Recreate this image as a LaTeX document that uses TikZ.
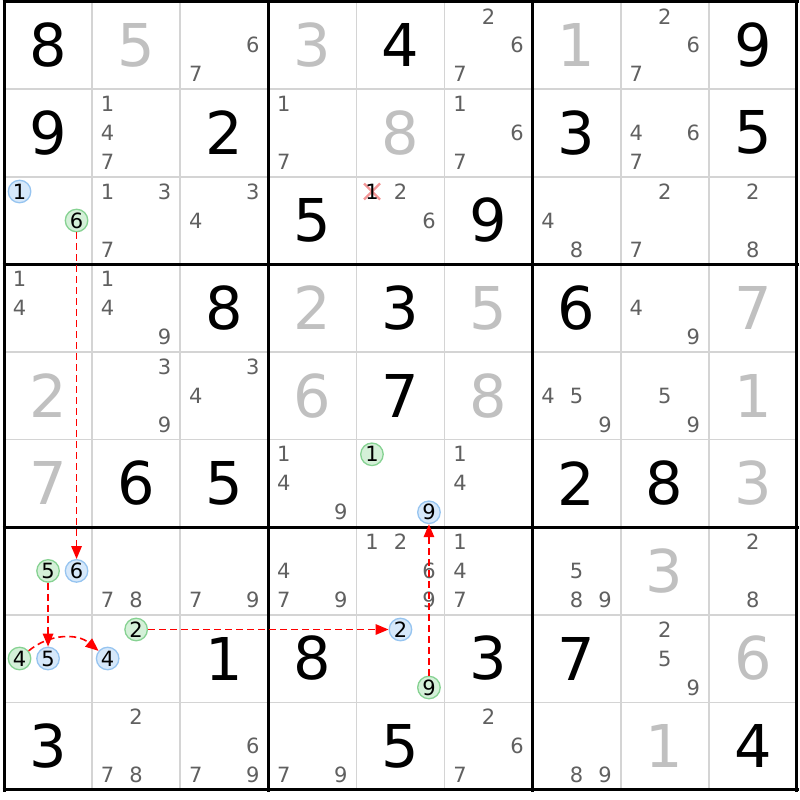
\documentclass[tikz,border=0pt]{standalone}
\usepackage{fontspec}
\setmainfont{DejaVu Sans}
\usepackage{tikz}
\usetikzlibrary{arrows.meta}

\definecolor{solved}{RGB}{192,192,192}
\definecolor{cand}{RGB}{96,96,96}
\definecolor{thingrid}{RGB}{212,212,212}
\definecolor{bluefill}{RGB}{214,232,250}
\definecolor{blueline}{RGB}{150,196,240}
\definecolor{greenfill}{RGB}{212,240,216}
\definecolor{greenline}{RGB}{134,210,146}
\definecolor{chainred}{RGB}{255,0,0}
\definecolor{crossred}{RGB}{244,150,150}

\begin{document}
\begin{tikzpicture}[x=1pt,y=-1pt,
  given/.style={font=\fontsize{59}{59}\selectfont,inner sep=0pt},
  filled/.style={given,text=solved},
  pencil/.style={font=\fontsize{21}{21}\selectfont,inner sep=0pt,text=cand},
  onchain/.style={pencil,circle,minimum size=22.5pt,line width=1.3pt,text=black},
  weak/.style={onchain,draw=blueline,fill=bluefill},
  strong/.style={onchain,draw=greenline,fill=greenfill},
  chain/.style={draw=chainred,line width=1.6pt,dash pattern=on 7pt off 4pt,
    -{Triangle[length=13pt,width=10.5pt]}}]
\fill[white] (0,0) rectangle (800,800);
\useasboundingbox (0,0) rectangle (800,800);
% grid
\foreach \i in {1,2,4,5,7,8} {
  \draw[thingrid,line width=1.6pt] ({4+88.1*\i},1.5) -- ({4+88.1*\i},790);
  \draw[thingrid,line width=1.6pt] (4,{1.5+87.6*\i}) -- (797,{1.5+87.6*\i});
}
\foreach \i in {0,3,6,9} {
  \draw[line width=3pt] ({4+88.1*\i},0) -- ({4+88.1*\i},791.5);
  \draw[line width=3pt] (2.5,{1.5+87.6*\i}) -- (798.5,{1.5+87.6*\i});
}
% big digits
\foreach \row/\col/\dig in {0/0/8,0/4/4,0/8/9,1/0/9,1/2/2,1/6/3,1/8/5,2/3/5,2/5/9,
    3/2/8,3/4/3,3/6/6,4/4/7,5/1/6,5/2/5,5/6/2,5/7/8,7/2/1,7/3/8,7/5/3,7/6/7,
    8/0/3,8/4/5,8/8/4}
  \node[given] (g\row\col) at ({4+88.1*(\col+.5)},{1.5+87.6*(\row+.5)}) {\dig};
\foreach \row/\col/\dig in {0/1/5,0/3/3,0/6/1,1/4/8,3/3/2,3/5/5,3/8/7,4/0/2,4/3/6,
    4/5/8,4/8/1,5/0/7,5/8/3,6/7/3,7/8/6,8/7/1}
  \node[filled] (g\row\col) at ({4+88.1*(\col+.5)},{1.5+87.6*(\row+.5)}) {\dig};
% pencil marks
\foreach \row/\col/\dig in {0/2/6,0/2/7,0/5/2,0/5/6,0/5/7,0/7/2,0/7/6,0/7/7,
    1/1/1,1/1/4,1/1/7,1/3/1,1/3/7,1/5/1,1/5/6,1/5/7,1/7/4,1/7/6,1/7/7,
    2/1/1,2/1/3,2/1/7,2/2/3,2/2/4,2/4/2,2/4/6,2/6/4,2/6/8,2/7/2,2/7/7,2/8/2,2/8/8,
    3/0/1,3/0/4,3/1/1,3/1/4,3/1/9,3/7/4,3/7/9,
    4/1/3,4/1/9,4/2/3,4/2/4,4/6/4,4/6/5,4/6/9,4/7/5,4/7/9,
    5/3/1,5/3/4,5/3/9,5/5/1,5/5/4,
    6/1/7,6/1/8,6/2/7,6/2/9,6/3/4,6/3/7,6/3/9,6/4/1,6/4/2,6/4/6,6/4/9,
    6/5/1,6/5/4,6/5/7,6/6/5,6/6/8,6/6/9,6/8/2,6/8/8,
    7/7/2,7/7/5,7/7/9,
    8/1/2,8/1/7,8/1/8,8/2/6,8/2/7,8/2/9,8/3/7,8/3/9,8/5/2,8/5/6,8/5/7,8/6/8,8/6/9}
  \node[pencil] (p\row\col\dig) at
    ({4+88.1*(\col+.5)+28.5*(mod(\dig-1,3)-1)},{1.5+87.6*(\row+.5)+29*(floor((\dig-1)/3)-1)}) {\dig};
% eliminated candidate
\draw[crossred,line width=2.4pt] (364,183.5) -- (380,199.5) (364,199.5) -- (380,183.5);
\node[pencil,text=black] (p241) at (372,191.5) {1};
% chain candidates
\foreach \row/\col/\dig/\kind in {2/0/1/weak,2/0/6/strong,5/4/1/strong,5/4/9/weak,
    6/0/5/strong,6/0/6/weak,7/0/4/strong,7/0/5/weak,7/1/2/strong,7/1/4/weak,
    7/4/2/weak,7/4/9/strong}
  \node[\kind] (p\row\col\dig) at
    ({4+88.1*(\col+.5)+28.5*(mod(\dig-1,3)-1)},{1.5+87.6*(\row+.5)+29*(floor((\dig-1)/3)-1)}) {\dig};
% links
\draw[chain] (p206) -- (p606);
\draw[chain] (p605) -- (p705);
\draw[chain] (p704) to[bend left=40] (p714);
\draw[chain] (p712) -- (p742);
\draw[chain] (p749) -- (p549);
\end{tikzpicture}
\end{document}
